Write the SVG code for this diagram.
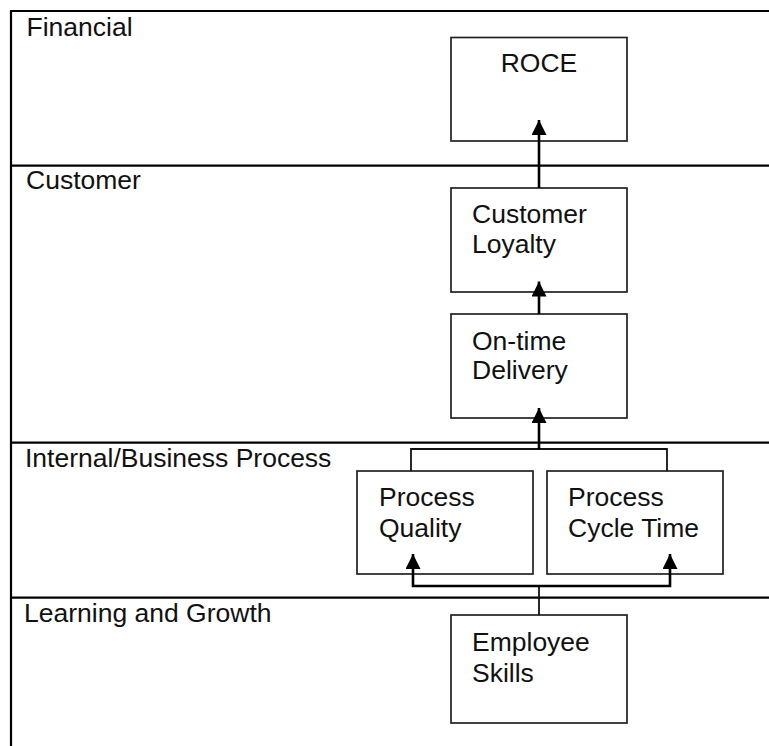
<svg xmlns="http://www.w3.org/2000/svg" width="769" height="746" viewBox="0 0 769 746">
<defs>
<style>
text{font-family:"Liberation Sans",Arial,sans-serif;font-size:26.5px;fill:#111}
.band{stroke:#000;stroke-width:2.2;fill:none}
.box{stroke:#222;stroke-width:1.7;fill:#fff}
.conn{stroke:#000;stroke-width:2.6;fill:none}
.join{stroke:#111;stroke-width:1.8;fill:none}
</style>
<marker id="ah" markerUnits="userSpaceOnUse" viewBox="0 0 15 15" refX="15" refY="7.5" markerWidth="15" markerHeight="15" orient="auto">
<path d="M0,0 L15,7.5 L0,15 z" fill="#000"/>
</marker>
</defs>
<rect width="769" height="746" fill="#fff"/>
<g id="lanes">
<path class="band" d="M11,746 V11 H769 M11,165.7 H769 M11,442.7 H769 M11,597.7 H769"/>
<text x="26.5" y="35.7">Financial</text>
<text x="26" y="189.3">Customer</text>
<text x="25" y="466.7">Internal/Business Process</text>
<text x="24" y="621.7">Learning and Growth</text>
</g>
<g id="roce">
<rect class="box" x="451" y="37.5" width="176" height="103.5"/>
<text x="539" y="72" text-anchor="middle">ROCE</text>
</g>
<g id="customer-loyalty">
<rect class="box" x="451" y="188" width="176" height="104"/>
<text x="472" y="223">Customer</text>
<text x="472" y="253">Loyalty</text>
</g>
<g id="on-time-delivery">
<rect class="box" x="451" y="314" width="176" height="104"/>
<text x="472" y="350">On-time</text>
<text x="472" y="379">Delivery</text>
</g>
<g id="process-quality">
<rect class="box" x="357" y="471" width="176" height="103"/>
<text x="379" y="506">Process</text>
<text x="379" y="536.5">Quality</text>
</g>
<g id="process-cycle-time">
<rect class="box" x="547" y="471" width="176" height="103"/>
<text x="568" y="506">Process</text>
<text x="568" y="536.5">Cycle Time</text>
</g>
<g id="employee-skills">
<rect class="box" x="451" y="615" width="176" height="108"/>
<text x="472" y="651">Employee</text>
<text x="472" y="682">Skills</text>
</g>
<g id="connectors">
<line class="conn" x1="539" y1="188" x2="539" y2="120" marker-end="url(#ah)"/>
<line class="conn" x1="539" y1="314" x2="539" y2="281.5" marker-end="url(#ah)"/>
<path class="join" d="M411,471 V449 H667 V471"/>
<line class="conn" x1="539" y1="449" x2="539" y2="408" marker-end="url(#ah)"/>
<path class="join" d="M539,615 V586"/>
<path class="conn" d="M539,586 H413 V554" marker-end="url(#ah)"/>
<path class="conn" d="M539,586 H670 V554" marker-end="url(#ah)"/>
</g>
</svg>
